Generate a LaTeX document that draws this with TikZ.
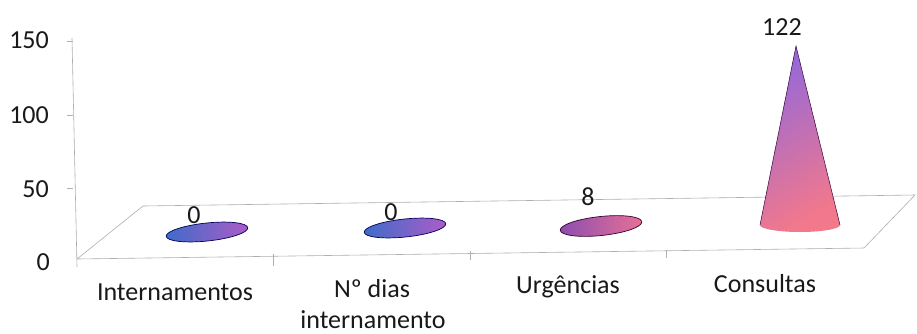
\documentclass[tikz,border=0pt]{standalone}
\usepackage{fontspec}
\setmainfont{Carlito}
\definecolor{discblue}{RGB}{62,108,200}
\definecolor{discpurple}{RGB}{172,92,200}
\definecolor{urgleft}{RGB}{140,78,175}
\definecolor{urgright}{RGB}{232,112,150}
\definecolor{conetop}{RGB}{150,105,215}
\definecolor{conebot}{RGB}{242,120,140}
\definecolor{gridgray}{RGB}{175,175,175}
\begin{document}
\begin{tikzpicture}[x=1pt,y=1pt,
  txt/.style={font=\fontsize{26}{30}\selectfont, inner sep=0pt, text=black!90},
  gridline/.style={draw=gridgray, line width=0.6pt},
  discline/.style={draw=blue!35!black, line width=0.7pt}]
\useasboundingbox[fill=white] (0,0) rectangle (917,-333);
% floor and axis
\coordinate (AT) at (72,-38);
\coordinate (AB) at (77,-267);
\coordinate (FL) at (77,-259);
\coordinate (FR) at (864,-248);
\coordinate (BL) at (143,-206);
\coordinate (BR) at (915,-195);
\draw[gridline] (AT) -- (AB);
\draw[gridline] (FL) -- (FR) -- (BR) -- (BL) -- cycle;
\foreach \yy in {41,115,188} { \draw[gridline] (67,-\yy) -- (73,-\yy); }
\draw[gridline] (273,-254) -- (273,-266);
\draw[gridline] (470,-251) -- (470,-260);
\draw[gridline] (666,-250) -- (666,-258);
% axis labels
\node[txt, anchor=base east] (y150) at (49,-48) {150};
\node[txt, anchor=base east] (y100) at (49,-123) {100};
\node[txt, anchor=base east] (y50) at (49,-197) {50};
\node[txt, anchor=base east] (y0) at (50,-270) {0};
% discs
\draw[discline, left color=discblue, right color=discpurple, rotate around={6:(207,-232)}] (207,-232) ellipse [x radius=41pt, y radius=9pt];
\draw[discline, left color=discblue, right color=discpurple, rotate around={6:(405,-228)}] (405,-228) ellipse [x radius=41pt, y radius=9pt];
\draw[discline, draw=violet!40!black, left color=urgleft, right color=urgright, rotate around={6:(601,-226)}] (601,-226) ellipse [x radius=41pt, y radius=9.5pt];
% cone
\shade[top color=conetop, bottom color=conebot, shading angle=30] (796,-46) -- (760,-225) arc[start angle=180, end angle=360, x radius=40pt, y radius=7pt] -- cycle;
\draw[draw=violet!45!black, line width=0.5pt] (760,-225) -- (796,-46) -- (840,-225);
% value labels
\node[txt, anchor=base] (v1) at (194,-223) {0};
\node[txt, anchor=base] (v2) at (391,-220) {0};
\node[txt, anchor=base] (v3) at (588,-205) {8};
\node[txt, anchor=base] (v4) at (782,-35) {122};
% category labels
\node[txt, anchor=base] (c1) at (175,-300) {Internamentos};
\node[txt, anchor=base] (c2) at (372,-297) {Nº dias};
\node[txt, anchor=base] (c2b) at (373,-328) {internamento};
\node[txt, anchor=base] (c3) at (568,-293) {Urgências};
\node[txt, anchor=base] (c4) at (765,-292) {Consultas};
\end{tikzpicture}
\end{document}
